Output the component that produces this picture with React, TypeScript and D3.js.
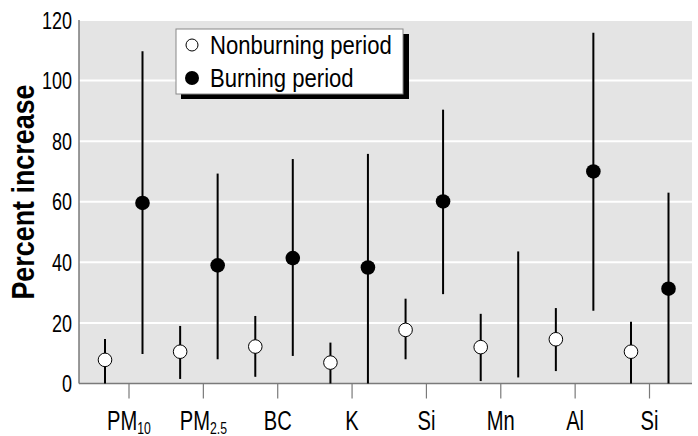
import React from 'react';
import * as d3 from 'd3';

// values (percent increase)
const categories = ['PM', 'PM', 'BC', 'K', 'Si', 'Mn', 'Al', 'Si'];
const subscripts = ['10', '2.5', '', '', '', '', '', ''];

const nonburning = [7.8, 10.5, 12.2, 6.9, 17.7, 12, 14.6, 10.5];
const nonburningLow = [0, 1.5, 2.2, 0, 8, 0.8, 4.1, 0];
const nonburningHigh = [14.7, 19, 22.3, 13.5, 28, 23, 24.9, 20.4];

const burning = [59.6, 39, 41.4, 38.3, 60.1, null, 70, 31.3];
const burningLow = [9.75, 8, 9.1, 0, 29.5, 2, 24, 0];
const burningHigh = [109.7, 69.3, 74.1, 75.8, 90.4, 43.6, 115.8, 63];

const yTicks = [0, 20, 40, 60, 80, 100, 120];

const FONT = "'Liberation Sans', Arial, sans-serif";

// condensed look: Liberation Sans squeezed horizontally
function Txt({ x, y, sx, size, anchor = 'start', weight = 'normal', rotate = 0, children }: any) {
  const rot = rotate ? ` rotate(${rotate})` : '';
  return (
    <text
      transform={`translate(${x},${y})${rot} scale(${sx},1)`}
      fontSize={size}
      fontWeight={weight}
      textAnchor={anchor}
      fill="#000"
    >
      {children}
    </text>
  );
}

export default function App() {
  const width = 698;
  const height = 436;
  const left = 79;
  const right = 692;
  const top = 20;
  const bottom = 383.5;

  const y = d3.scaleLinear().domain([0, 120]).range([bottom, top]);
  const idx = categories.map((_, i) => String(i));
  const xPoint = d3.scalePoint().domain(idx).range([105, 631]);
  const xTick = d3.scalePoint().domain(idx).range([129, 649.5]);
  const offset = 37.5;

  return (
    <svg width={width} height={height} style={{ position: 'absolute', left: 0, top: 0 }} fontFamily={FONT}>
      <rect x={0} y={0} width={width} height={height} fill="#fff" />
      <rect x={left} y={top} width={right - left} height={bottom - top} fill="#e4e4e4" />
      {yTicks.slice(1).map(t => (
        <line key={t} x1={left} x2={right} y1={y(t)} y2={y(t)} stroke="#fff" strokeWidth={2} />
      ))}

      {/* axes */}
      <line x1={left} x2={left} y1={top} y2={bottom} stroke="#7a7a7a" strokeWidth={1.5} />
      <line x1={left} x2={right} y1={bottom} y2={bottom} stroke="#7a7a7a" strokeWidth={1.5} />
      {idx.map(i => (
        <line key={i} x1={xTick(i)} x2={xTick(i)} y1={bottom} y2={bottom + 15} stroke="#7a7a7a" strokeWidth={1.2} />
      ))}
      {yTicks.map(t => (
        <Txt key={t} x={72} y={y(t) + 8.6} sx={0.75} size={24} anchor="end">{t}</Txt>
      ))}
      {idx.map((i, k) => (
        <Txt key={i} x={xTick(i)} y={430} sx={0.72} size={28} anchor="middle">
          {categories[k]}
          {subscripts[k] && <tspan fontSize={17} dy={4}>{subscripts[k]}</tspan>}
        </Txt>
      ))}
      <Txt x={34} y={192} rotate={-90} sx={0.84} size={32} anchor="middle" weight="bold">
        Percent increase
      </Txt>

      {/* nonburning period */}
      {idx.map((i, k) => (
        <g key={'n' + i}>
          <line x1={xPoint(i)} x2={xPoint(i)} y1={y(nonburningLow[k])} y2={y(nonburningHigh[k])} stroke="#000" strokeWidth={2} />
          <circle cx={xPoint(i)} cy={y(nonburning[k])} r={6.8} fill="#fff" stroke="#000" strokeWidth={1} />
        </g>
      ))}

      {/* burning period */}
      {idx.map((i, k) => (
        <g key={'b' + i}>
          <line x1={xPoint(i)! + offset} x2={xPoint(i)! + offset} y1={y(burningLow[k])} y2={y(burningHigh[k])} stroke="#000" strokeWidth={2} />
          {burning[k] !== null && (
            <circle cx={xPoint(i)! + offset} cy={y(burning[k] as number)} r={7.3} fill="#000" />
          )}
        </g>
      ))}

      {/* legend */}
      <rect x={181} y={34} width={228} height={65} fill="#000" />
      <rect x={176} y={29} width={227} height={65} fill="#fff" stroke="#888" strokeWidth={1} />
      <circle cx={192} cy={45} r={6} fill="#fff" stroke="#000" strokeWidth={1} />
      <Txt x={210} y={54} sx={0.85} size={26}>Nonburning period</Txt>
      <circle cx={192} cy={78} r={7} fill="#000" />
      <Txt x={210} y={87} sx={0.85} size={26}>Burning period</Txt>
    </svg>
  );
}
